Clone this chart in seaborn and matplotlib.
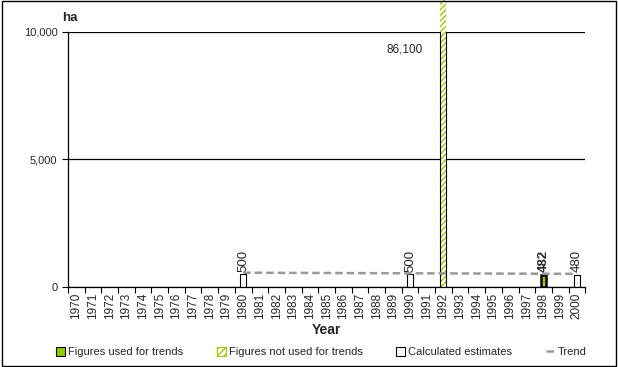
import numpy as np
import pandas as pd
import matplotlib.pyplot as plt
import seaborn as sns
from matplotlib.patches import Patch, Rectangle
from matplotlib.lines import Line2D
from matplotlib.ticker import FuncFormatter, FixedLocator

# data
years = list(range(1970, 2001))
bar_years = [1980, 1990, 1992, 1998, 2000]
bar_values = [500, 500, 86100, 482, 480]
bar_kind = ["calc", "calc", "notused", "used", "calc"]
bar_labels = ["500", "500", "86,100", "482", "480"]
trend_years = [1980, 2000]
trend_values = [560, 515]

green = "#99cc00"

df = pd.DataFrame({"Year": [str(y) for y in years]})
vals = dict(zip(bar_years, bar_values))
df["ha"] = [vals.get(y, np.nan) for y in years]

sns.set_style("white")
plt.rcParams["font.family"] = ["Liberation Sans", "DejaVu Sans"]

fig = plt.figure(figsize=(6.18, 3.67), dpi=100)
ax = fig.add_axes([0.110, 0.218, 0.837, 0.695])

sns.barplot(data=df, x="Year", y="ha", ax=ax, color="white", width=0.35,
            edgecolor="black", linewidth=0.8)

# find bar patch by its category position
bars = list(ax.patches)
def bar_at(i):
    for b in bars:
        if abs(b.get_x() + b.get_width() / 2 - i) < 0.3:
            return b
    return None

# style each bar
for yr, val, kind, lab in zip(bar_years, bar_values, bar_kind, bar_labels):
    i = years.index(yr)
    p = bar_at(i)
    if kind == "used":
        p.set_facecolor(green)
        p.set_linewidth(1.8)
    elif kind == "notused":
        p.set_facecolor("white")
        p.set_edgecolor(green)
        p.set_hatch("//////")
        p.set_linewidth(0)
        p.set_clip_on(False)
        ax.add_patch(Rectangle(p.get_xy(), p.get_width(), p.get_height(),
                               fill=False, ec="black", lw=0.8, zorder=p.get_zorder() + 0.1))
    if val > 10000:
        ax.text(i - 1.25, 9300, lab, ha="right", va="center", fontsize=8.5)
    else:
        ax.text(i, val + 100, lab, ha="center", va="bottom", rotation=90,
                fontsize=9.5, fontweight="bold" if kind == "used" else "normal")

# trend line
sns.lineplot(x=[y - 1970 for y in trend_years], y=trend_values, ax=ax,
             color="#999999", linestyle=(0, (3, 1.6)), linewidth=1.8, zorder=4)

ax.set_ylim(0, 10000)
ax.set_xlim(-0.5, len(years) - 0.5)
ax.set_yticks([0, 5000, 10000])
ax.yaxis.set_major_formatter(FuncFormatter(lambda v, p: f"{int(v):,}"))
ax.grid(axis="y", color="black", linewidth=0.9)
ax.set_axisbelow(True)
for s in ["top", "right"]:
    ax.spines[s].set_visible(False)
for s in ["left", "bottom"]:
    ax.spines[s].set_color("black")
    ax.spines[s].set_linewidth(0.9)

ax.xaxis.set_minor_locator(FixedLocator(np.arange(-0.5, len(years), 1)))
ax.tick_params(axis="x", which="major", length=0, labelrotation=90, labelsize=8.5, pad=4)
ax.tick_params(axis="x", which="minor", length=4, width=0.8, color="black", direction="out", bottom=True)
ax.tick_params(axis="y", length=4, width=0.8, color="black", direction="out", left=True, labelsize=8)

ax.set_xlabel("Year", fontsize=10, fontweight="bold", labelpad=3)
ax.set_ylabel("")
fig.text(0.100, 0.935, "ha", fontsize=9.5, fontweight="bold", ha="left", va="bottom")

handles = [
    Patch(facecolor=green, edgecolor="black", linewidth=0.8),
    Patch(facecolor="white", edgecolor=green, hatch="/////", linewidth=0.8),
    Patch(facecolor="white", edgecolor="black", linewidth=0.8),
    Line2D([0], [0], color="#999999", linestyle=(0, (3, 1.6)), linewidth=1.8),
]
labels = ["Figures used for trends", "Figures not used for trends",
          "Calculated estimates", "Trend"]
fig.legend(handles, labels, loc="center", bbox_to_anchor=(0.52, 0.04), ncol=4,
           frameon=False, fontsize=8, handlelength=0.8, handleheight=0.8,
           handletextpad=0.3, columnspacing=3.0)

fig.patches.append(Rectangle((0.003, 0.004), 0.994, 0.992, transform=fig.transFigure,
                             fill=False, ec="black", lw=1))

fig.savefig("out.png", dpi=100)
